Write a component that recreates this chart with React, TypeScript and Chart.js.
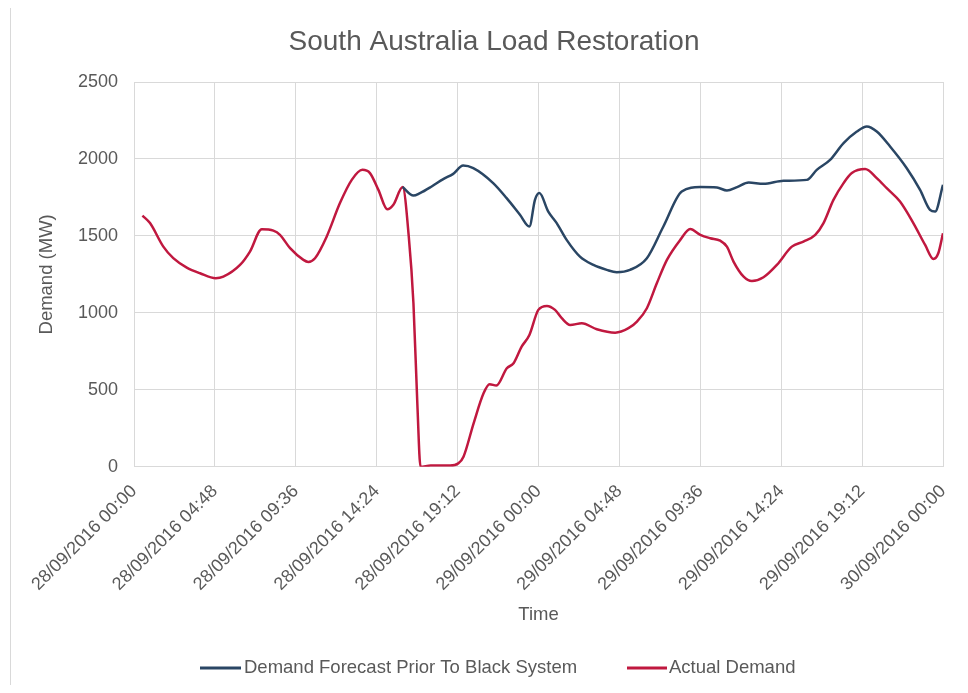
import React, { useEffect, useRef } from "react";
import { Chart, registerables } from "chart.js";

Chart.register(...registerables);

const chartTitle = "South Australia Load Restoration";
const xAxisTitle = "Time";
const yAxisTitle = "Demand (MW)";
const forecastLabel = "Demand Forecast Prior To Black System";
const actualLabel = "Actual Demand";

const xTickLabels = [
  "28/09/2016 00:00",
  "28/09/2016 04:48",
  "28/09/2016 09:36",
  "28/09/2016 14:24",
  "28/09/2016 19:12",
  "29/09/2016 00:00",
  "29/09/2016 04:48",
  "29/09/2016 09:36",
  "29/09/2016 14:24",
  "29/09/2016 19:12",
  "30/09/2016 00:00",
];
const xTickHours = [0, 4.8, 9.6, 14.4, 19.2, 24, 28.8, 33.6, 38.4, 43.2, 48];
const yTicks = [0, 500, 1000, 1500, 2000, 2500];

// hours since 28/09/2016 00:00
const actualHours = [
  0.5, 0.95, 1.74, 2.33, 3.13, 3.92, 4.85, 5.3, 6.29, 6.88, 7.58, 8.27, 8.66,
  9.26, 10.05, 10.34, 10.74, 11.43, 12.22, 12.92, 13.55, 14.0, 14.5, 15.03,
  15.39, 15.94, 16.3, 16.58, 16.81, 17.0, 17.6, 18.75, 19.25, 19.55, 20.15,
  20.74, 21.1, 21.5, 22.12, 22.52, 23.0, 23.46, 23.99, 24.5, 24.98, 25.38,
  25.88, 26.57, 27.46, 28.55, 29.34, 29.84, 30.43, 31.02, 31.62, 32.41, 33.0,
  33.6, 34.19, 34.78, 35.18, 35.57, 36.17, 36.66, 37.35, 38.14, 39.03, 39.72,
  40.42, 40.91, 41.5, 42.1, 42.59, 43.38, 44.07, 44.66, 45.45, 46.24, 46.94,
  47.43, 47.72, 48.0,
];
const actualMW = [
  1632, 1583, 1430, 1355, 1294, 1257, 1225, 1235, 1311, 1398, 1543, 1534, 1507,
  1420, 1344, 1331, 1355, 1495, 1713, 1864, 1929, 1908, 1799, 1673,
  1702, 1817, 1500, 1062, 412, 0, 7, 7, 22, 65, 282,
  477, 536, 527, 640, 672, 780, 856, 1019, 1045, 1019, 965,
  921, 932, 893, 871, 900, 943, 1030, 1192, 1344, 1474, 1545,
  1507, 1485, 1469, 1430, 1333, 1235, 1207, 1231, 1311, 1430, 1463,
  1507, 1583, 1734, 1843, 1908, 1934, 1875, 1810, 1723, 1583, 1441,
  1350, 1387, 1517,
];

const forecastHours = [
  15.94, 16.58, 16.97, 17.66, 18.35, 18.94, 19.53, 20.13, 21.31, 22.11, 22.9,
  23.46, 23.79, 24.05, 24.58, 25.08, 25.67, 26.46, 27.26, 28.05, 28.64, 29.43,
  30.43, 31.41, 32.5, 33.6, 34.59, 35.18, 35.78, 36.47, 37.35, 38.54, 39.92,
  40.51, 41.3, 42.1, 42.89, 43.48, 44.07, 44.86, 45.85, 46.64, 47.23, 47.53,
  48.0,
];
const forecastMW = [
  1817, 1762, 1778, 1821, 1869, 1903, 1957, 1940, 1843, 1745, 1637,
  1561, 1734, 1778, 1658, 1583, 1474, 1365, 1311, 1279, 1264, 1279,
  1355, 1561, 1788, 1817, 1814, 1795, 1817, 1847, 1838, 1858, 1864,
  1929, 1994, 2103, 2178, 2211, 2178, 2081, 1940, 1799, 1669, 1658,
  1832,
];

const BLUE = "#2A4664";
const RED = "#C0183F";
const TEXT = "#595959";
const GRID = "#d9d9d9";
const FONT = '"Liberation Sans", Arial, sans-serif';

const overlayPlugin = {
  id: "overlay",
  beforeDraw(chart: any) {
    const ctx = chart.ctx as CanvasRenderingContext2D;
    ctx.save();
    ctx.fillStyle = "#ffffff";
    ctx.fillRect(0, 0, chart.width, chart.height);
    ctx.fillStyle = GRID;
    ctx.fillRect(10, 7, chart.width - 10, 1);
    ctx.fillRect(10, 7, 1, chart.height - 7);
    ctx.restore();
  },
  afterDraw(chart: any) {
    const ctx = chart.ctx as CanvasRenderingContext2D;
    ctx.save();
    ctx.fillStyle = TEXT;
    ctx.font = `28px ${FONT}`;
    ctx.textAlign = "center";
    ctx.textBaseline = "alphabetic";
    ctx.fillText(chartTitle, 494, 50);

    ctx.font = `18.5px ${FONT}`;
    ctx.textAlign = "left";
    ctx.textBaseline = "middle";
    const ly = 668;
    ctx.lineWidth = 3;
    ctx.strokeStyle = BLUE;
    ctx.beginPath();
    ctx.moveTo(200, ly);
    ctx.lineTo(241, ly);
    ctx.stroke();
    ctx.fillText(forecastLabel, 244, ly);
    ctx.strokeStyle = RED;
    ctx.beginPath();
    ctx.moveTo(627, ly);
    ctx.lineTo(667, ly);
    ctx.stroke();
    ctx.fillText(actualLabel, 669, ly);
    ctx.restore();
  },
};

export default function App() {
  const ref = useRef<HTMLCanvasElement | null>(null);

  useEffect(() => {
    if (!ref.current) return;
    const chart = new Chart(ref.current, {
      type: "line",
      data: {
        datasets: [
          {
            label: forecastLabel,
            data: forecastHours.map((h, i) => ({ x: h, y: forecastMW[i] })),
            borderColor: BLUE,
            backgroundColor: BLUE,
            borderWidth: 2.5,
            pointRadius: 0,
            cubicInterpolationMode: "monotone",
          },
          {
            label: actualLabel,
            data: actualHours.map((h, i) => ({ x: h, y: actualMW[i] })),
            borderColor: RED,
            backgroundColor: RED,
            borderWidth: 2.5,
            pointRadius: 0,
            cubicInterpolationMode: "monotone",
          },
        ],
      },
      options: {
        animation: false,
        responsive: false,
        maintainAspectRatio: false,
        layout: { padding: { left: 32, right: 25, top: 82, bottom: 63 } },
        plugins: {
          legend: { display: false },
          title: { display: false },
          tooltip: { enabled: false },
        },
        scales: {
          x: {
            type: "linear",
            min: 0,
            max: 48,
            afterBuildTicks: (scale: any) => {
              scale.ticks = xTickHours.map((v) => ({ value: v }));
            },
            afterFit: (scale: any) => {
              scale.height = 163.3;
              scale.paddingRight = 0;
              scale.paddingLeft = 0;
            },
            ticks: {
              autoSkip: false,
              minRotation: 45,
              maxRotation: 45,
              padding: 14,
              color: TEXT,
              font: { size: 18, family: FONT },
              callback: (_v: any, i: number) => xTickLabels[i],
            },
            grid: { color: GRID, drawTicks: false, lineWidth: 1 },
            border: { color: GRID },
            title: {
              display: true,
              text: xAxisTitle,
              color: TEXT,
              font: { size: 18.5, family: FONT },
            },
          },
          y: {
            min: 0,
            max: 2500,
            afterBuildTicks: (scale: any) => {
              scale.ticks = yTicks.map((v) => ({ value: v }));
            },
            afterFit: (scale: any) => {
              scale.width = 102;
            },
            ticks: {
              padding: 16,
              color: TEXT,
              font: { size: 18, family: FONT },
              callback: (v: any) => String(v),
            },
            grid: { color: GRID, drawTicks: false, lineWidth: 1 },
            border: { color: GRID },
            title: {
              display: true,
              text: yAxisTitle,
              color: TEXT,
              font: { size: 18.5, family: FONT },
            },
          },
        },
      },
      plugins: [overlayPlugin],
    } as any);
    return () => chart.destroy();
  }, []);

  return (
    <div
      style={{
        position: "relative",
        width: 968,
        height: 693,
        margin: -8,
        overflow: "hidden",
        background: "#ffffff",
      }}
    >
      <canvas
        ref={ref}
        width={968}
        height={693}
        style={{ position: "absolute", left: 0, top: 0, width: 968, height: 693 }}
      />
    </div>
  );
}
